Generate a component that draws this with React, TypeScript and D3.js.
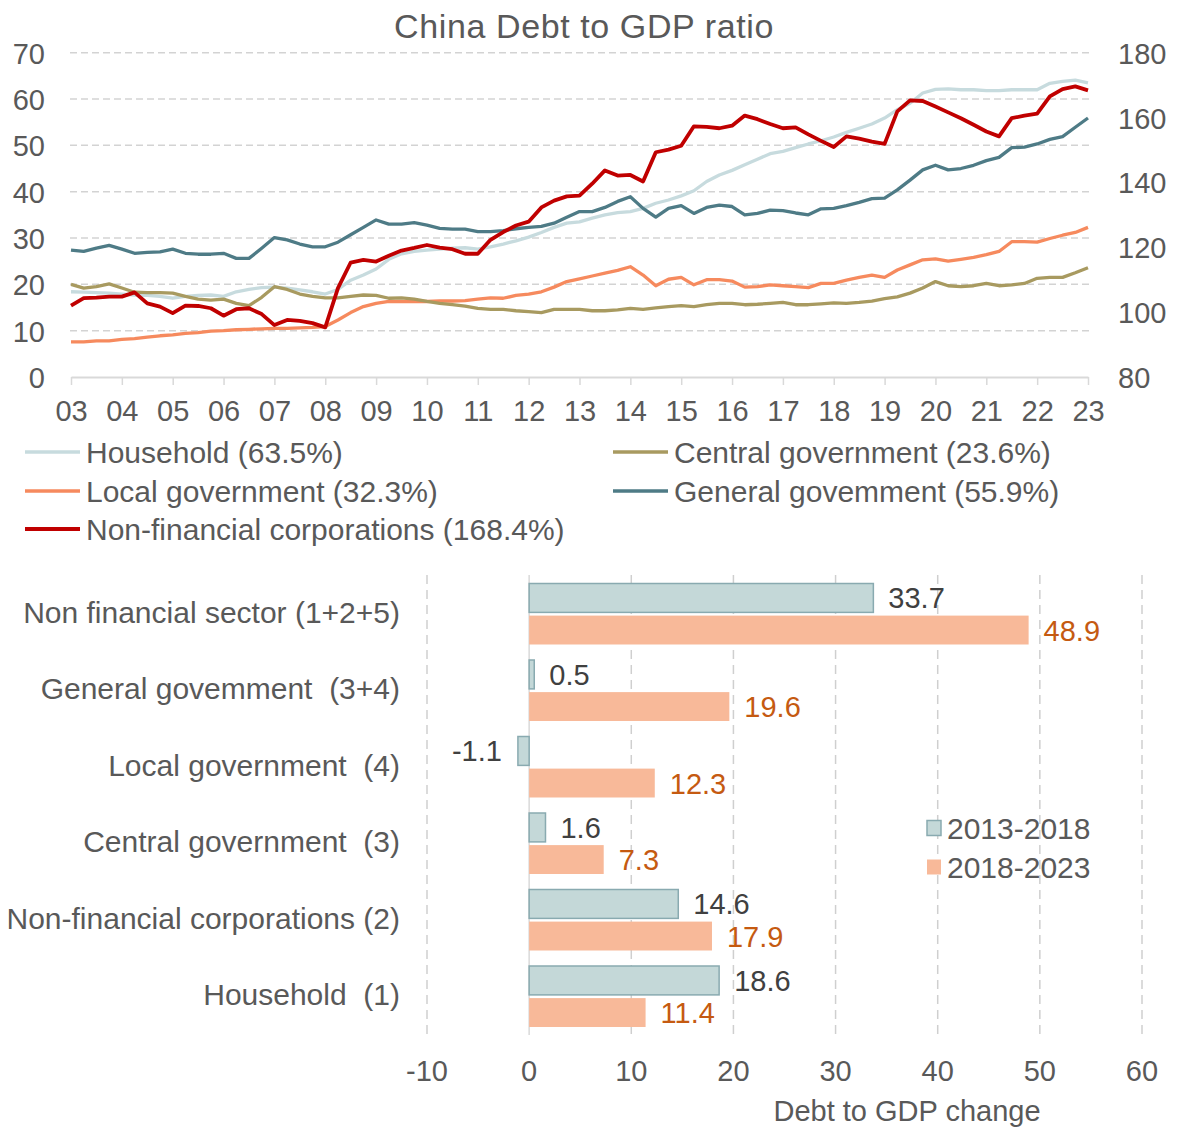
import { useEffect, useRef } from "react";
import * as d3 from "d3";

// quarterly observations, 2003Q1 .. 2023Q1 (% of GDP)
const household = [
  18.4, 18.3, 18.2, 18.1, 17.9, 17.7, 17.6, 17.4, 17.0, 17.4, 17.6, 17.7, 17.4, 18.4, 18.9, 19.3, 19.4, 19.2, 18.8, 18.4,
  17.9, 18.9, 20.9, 22.0, 23.3, 25.4, 26.6, 27.1, 27.4, 27.6, 27.8, 27.9, 27.6, 28.1, 28.7, 29.4, 30.2, 31.2, 32.3, 33.2,
  33.5, 34.3, 35.0, 35.5, 35.7, 36.4, 37.5, 38.2, 39.1, 40.2, 42.2, 43.6, 44.6, 45.8, 47.0, 48.2, 48.7, 49.5, 50.3, 51.0,
  51.8, 52.8, 53.7, 54.6, 55.9, 57.7, 59.1, 61.3, 62.1, 62.2, 62.0, 62.0, 61.8, 61.8, 62.0, 62.0, 62.0, 63.4, 63.8, 64.1,
  63.5,
];
const localGov = [
  7.6, 7.6, 7.8, 7.8, 8.1, 8.3, 8.6, 8.9, 9.1, 9.4, 9.6, 9.9, 10.0, 10.2, 10.3, 10.4, 10.5, 10.5, 10.6, 10.7,
  10.9, 12.3, 13.9, 15.2, 15.9, 16.3, 16.3, 16.3, 16.3, 16.4, 16.4, 16.5, 16.8, 17.1, 17.0, 17.6, 17.9, 18.4, 19.4, 20.6,
  21.2, 21.8, 22.4, 23.0, 23.8, 22.0, 19.7, 21.1, 21.5, 19.9, 21.0, 21.0, 20.7, 19.4, 19.5, 19.9, 19.7, 19.5, 19.3, 20.2,
  20.2, 20.9, 21.5, 22.0, 21.5, 23.1, 24.2, 25.3, 25.5, 25.0, 25.4, 25.8, 26.4, 27.1, 29.2, 29.2, 29.1, 29.9, 30.6, 31.2,
  32.3,
];
const centralGov = [
  20.0, 19.2, 19.5, 20.1, 19.2, 18.3, 18.2, 18.2, 18.1, 17.4, 16.8, 16.6, 16.8, 15.9, 15.4, 17.2, 19.5, 18.9, 17.9, 17.4,
  17.1, 17.1, 17.4, 17.7, 17.6, 17.0, 17.1, 16.8, 16.3, 15.9, 15.6, 15.3, 14.8, 14.6, 14.6, 14.3, 14.1, 13.9, 14.6, 14.6,
  14.6, 14.3, 14.3, 14.5, 14.8, 14.6, 14.9, 15.2, 15.4, 15.2, 15.6, 15.9, 15.9, 15.6, 15.7, 15.9, 16.1, 15.6, 15.6, 15.8,
  16.0, 15.9, 16.1, 16.4, 16.9, 17.3, 18.1, 19.2, 20.6, 19.7, 19.5, 19.7, 20.2, 19.7, 19.9, 20.2, 21.3, 21.5, 21.5, 22.5,
  23.6,
];
const generalGov = [
  27.4, 27.1, 27.8, 28.4, 27.6, 26.7, 26.9, 27.0, 27.6, 26.7, 26.5, 26.5, 26.7, 25.6, 25.6, 27.8, 30.1, 29.6, 28.7, 28.1,
  28.1, 29.1, 30.7, 32.3, 33.9, 33.0, 33.0, 33.3, 32.8, 32.1, 31.9, 31.9, 31.4, 31.4, 31.6, 32.0, 32.3, 32.5, 33.2, 34.5,
  35.7, 35.7, 36.6, 37.9, 38.9, 36.4, 34.5, 36.4, 37.0, 35.3, 36.6, 37.1, 36.8, 35.0, 35.3, 36.0, 35.9, 35.4, 35.0, 36.3,
  36.4, 37.0, 37.7, 38.5, 38.6, 40.4, 42.5, 44.7, 45.7, 44.7, 45.0, 45.7, 46.7, 47.4, 49.5, 49.6, 50.3, 51.3, 51.9, 53.9,
  55.9,
];
// right axis
const nonFinCorp = [
  102.0, 104.3, 104.5, 104.8, 104.8, 106.1, 102.7, 101.7, 99.7, 102.0, 101.9, 101.2, 98.9, 100.9, 101.2, 99.4, 96.0, 97.6, 97.3, 96.6,
  95.3, 107.4, 115.3, 116.1, 115.6, 117.4, 119.0, 119.8, 120.7, 119.9, 119.4, 118.0, 118.0, 122.3, 124.7, 126.7, 127.9, 132.3, 134.4, 135.7,
  135.9, 139.6, 143.7, 142.1, 142.3, 140.3, 149.3, 150.1, 151.3, 157.3, 157.1, 156.7, 157.5, 160.6, 159.5, 158.0, 156.7, 157.0, 154.8, 152.8,
  150.9, 154.2, 153.5, 152.6, 151.9, 161.9, 165.3, 165.1, 163.4, 161.6, 159.8, 157.8, 155.7, 154.2, 159.8, 160.6, 161.2, 166.5, 168.8, 169.6,
  168.4,
];

const yearTicks = [2003, 2004, 2005, 2006, 2007, 2008, 2009, 2010, 2011, 2012, 2013, 2014, 2015, 2016, 2017, 2018, 2019, 2020, 2021, 2022, 2023];
const leftTicks = [0, 10, 20, 30, 40, 50, 60, 70];
const rightTicks = [80, 100, 120, 140, 160, 180];

const barCategories = [
  "Non financial sector (1+2+5)",
  "General govemment  (3+4)",
  "Local government  (4)",
  "Central government  (3)",
  "Non-financial corporations (2)",
  "Household  (1)",
];
const barPeriods = ["2013-2018", "2018-2023"];
const change2013to2018 = [33.7, 0.5, -1.1, 1.6, 14.6, 18.6];
const change2018to2023 = [48.9, 19.6, 12.3, 7.3, 17.9, 11.4];
const barTicks = [-10, 0, 10, 20, 30, 40, 50, 60];

const App = () => {
  const svgRef = useRef<SVGSVGElement | null>(null);

  useEffect(() => {
    const svg = d3.select(svgRef.current);
    svg.selectAll("*").remove();
    const grey = "#595959";

    // ---------- top: line chart ----------
    const x = d3.scaleLinear().domain([2003, 2023]).range([71, 1088]);
    const yLeft = d3.scaleLinear().domain([0, 70]).range([377, 52.7]);
    const yRight = d3.scaleLinear().domain([80, 180]).range([377, 52.7]);

    svg.append("text")
      .attr("x", 584).attr("y", 38)
      .attr("text-anchor", "middle")
      .attr("font-size", 34)
      .attr("letter-spacing", 0.6)
      .attr("fill", grey)
      .text("China Debt to GDP ratio");

    // horizontal grid
    svg.append("g")
      .selectAll("line")
      .data(leftTicks.filter((d) => d > 0))
      .join("line")
      .attr("x1", 70).attr("x2", 1093)
      .attr("y1", (d) => yLeft(d)).attr("y2", (d) => yLeft(d))
      .attr("stroke", "#d3d3d3")
      .attr("stroke-width", 1.5)
      .attr("stroke-dasharray", "7,4");

    // x axis
    const xAxis = svg.append("g")
      .attr("transform", `translate(0, ${yLeft(0)})`)
      .call(
        d3.axisBottom(x)
          .tickValues(yearTicks)
          .tickFormat((d) => String(d).slice(2))
          .tickSize(8)
          .tickSizeOuter(0)
          .tickPadding(15)
      );
    xAxis.select(".domain").attr("stroke", "#d9d9d9").attr("stroke-width", 2);
    xAxis.selectAll(".tick line").attr("stroke", "#d9d9d9").attr("stroke-width", 1.5);
    xAxis.selectAll("text").attr("font-size", 29).attr("fill", grey).attr("font-family", null);

    // left axis
    const lAxis = svg.append("g")
      .attr("transform", "translate(45, 0)")
      .call(d3.axisLeft(yLeft).tickValues(leftTicks).tickSize(0).tickPadding(0));
    lAxis.select(".domain").remove();
    lAxis.selectAll("text").attr("font-size", 29).attr("fill", grey).attr("dy", "0.36em").attr("font-family", null);

    // right axis
    const rAxis = svg.append("g")
      .attr("transform", "translate(1118, 0)")
      .call(d3.axisRight(yRight).tickValues(rightTicks).tickSize(0).tickPadding(0));
    rAxis.select(".domain").remove();
    rAxis.selectAll("text").attr("font-size", 29).attr("fill", grey).attr("dy", "0.36em").attr("font-family", null);

    const lineSeries = [
      { label: "Household (63.5%)", values: household, scale: yLeft, color: "#c7dbde", width: 3.3 },
      { label: "Local government (32.3%)", values: localGov, scale: yLeft, color: "#f68a5e", width: 3.3 },
      { label: "Central government (23.6%)", values: centralGov, scale: yLeft, color: "#a89a60", width: 3.3 },
      { label: "General govemment (55.9%)", values: generalGov, scale: yLeft, color: "#4e7b86", width: 3.3 },
      { label: "Non-financial corporations (168.4%)", values: nonFinCorp, scale: yRight, color: "#c00000", width: 3.8 },
    ];

    const lines = svg.append("g").attr("fill", "none").attr("stroke-linejoin", "round");
    lineSeries.forEach((s) => {
      const line = d3.line<number>()
        .x((_, i) => x(2003 + i / 4))
        .y((d) => s.scale(d));
      lines.append("path")
        .attr("d", line(s.values))
        .attr("stroke", s.color)
        .attr("stroke-width", s.width);
    });

    // legend
    const legendPos = [
      { i: 0, x: 25, y: 452 },
      { i: 2, x: 613, y: 452 },
      { i: 1, x: 25, y: 491 },
      { i: 3, x: 613, y: 491 },
      { i: 4, x: 25, y: 529 },
    ];
    const legend = svg.append("g");
    legendPos.forEach((p) => {
      const s = lineSeries[p.i];
      legend.append("line")
        .attr("x1", p.x).attr("x2", p.x + 55)
        .attr("y1", p.y).attr("y2", p.y)
        .attr("stroke", s.color)
        .attr("stroke-width", s.width);
      legend.append("text")
        .attr("x", p.x + 61).attr("y", p.y + 10.5)
        .attr("font-size", 30)
        .attr("fill", grey)
        .text(s.label);
    });

    // ---------- bottom: bar chart ----------
    const xb = d3.scaleLinear().domain([-10, 60]).range([427, 1142]);
    const yb = d3.scaleBand().domain(barCategories).range([574, 1033]);
    const ySub = d3.scaleBand().domain(barPeriods).range([9.5, 70.5]).paddingInner(0.1);

    svg.append("g")
      .selectAll("line")
      .data(barTicks)
      .join("line")
      .attr("x1", (d) => xb(d)).attr("x2", (d) => xb(d))
      .attr("y1", 575).attr("y2", 1035)
      .attr("stroke", (d) => (d === 0 ? "#d9d9d9" : "#cfcfcf"))
      .attr("stroke-width", 1.5)
      .attr("stroke-dasharray", (d) => (d === 0 ? null : "9,6"));

    const rows = barCategories.map((c, i) => ({ cat: c, a: change2013to2018[i], b: change2018to2023[i] }));
    const styles = {
      "2013-2018": { fill: "#c4d8d8", stroke: "#89aab0", text: "#404040" },
      "2018-2023": { fill: "#f8b999", stroke: "none", text: "#c55a11" },
    };

    const bars = svg.append("g");
    rows.forEach((r) => {
      [["2013-2018", r.a], ["2018-2023", r.b]].forEach(([period, v]) => {
        const val = v as number;
        const st = styles[period as "2013-2018"];
        const y0 = (yb(r.cat) ?? 0) + (ySub(period as string) ?? 0);
        const h = ySub.bandwidth();
        bars.append("rect")
          .attr("x", xb(Math.min(0, val)))
          .attr("y", y0)
          .attr("width", Math.abs(xb(val) - xb(0)))
          .attr("height", h)
          .attr("fill", st.fill)
          .attr("stroke", st.stroke)
          .attr("stroke-width", 1.5);
        bars.append("text")
          .attr("x", val < 0 ? xb(val) - 16 : xb(val) + 15)
          .attr("y", y0 + h / 2 + 10.5)
          .attr("text-anchor", val < 0 ? "end" : "start")
          .attr("font-size", 29)
          .attr("fill", st.text)
          .text(val.toFixed(1));
      });
    });

    // category labels
    svg.append("g")
      .selectAll("text")
      .data(barCategories)
      .join("text")
      .attr("x", 400)
      .attr("y", (d) => (yb(d) ?? 0) + yb.bandwidth() / 2 + 10.5)
      .attr("text-anchor", "end")
      .attr("font-size", 30)
      .attr("fill", grey)
      .style("white-space", "pre")
      .text((d) => d);

    // x tick labels
    svg.append("g")
      .selectAll("text")
      .data(barTicks)
      .join("text")
      .attr("x", (d) => xb(d))
      .attr("y", 1080.5)
      .attr("text-anchor", "middle")
      .attr("font-size", 29)
      .attr("fill", grey)
      .text((d) => String(d));

    svg.append("text")
      .attr("x", 907).attr("y", 1120.5)
      .attr("text-anchor", "middle")
      .attr("font-size", 29)
      .attr("fill", grey)
      .text("Debt to GDP change");

    // bar legend
    const bl = svg.append("g");
    barPeriods.forEach((p, i) => {
      const st = styles[p as "2013-2018"];
      const cy = 828 + i * 39;
      bl.append("rect")
        .attr("x", 927).attr("y", cy - 7.5)
        .attr("width", 14).attr("height", 15)
        .attr("fill", st.fill)
        .attr("stroke", st.stroke)
        .attr("stroke-width", 1.5);
      bl.append("text")
        .attr("x", 947).attr("y", cy + 10.5)
        .attr("font-size", 30)
        .attr("fill", grey)
        .text(p);
    });
  }, []);

  return (
    <svg
      ref={svgRef}
      width={1182}
      height={1129}
      style={{ position: "absolute", left: 0, top: 0, background: "#fff" }}
      fontFamily="'Liberation Sans', Arial, sans-serif"
    />
  );
};

export default App;
